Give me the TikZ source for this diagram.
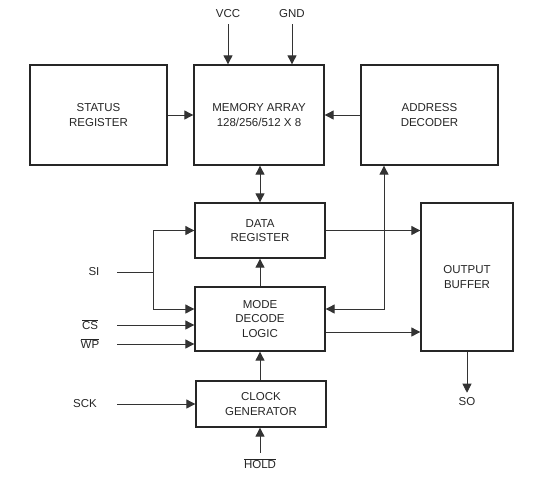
\documentclass[tikz,border=0pt]{standalone}
\usepackage{fontspec}
\setmainfont{Liberation Sans}
\usepackage{tikz}
\usetikzlibrary{arrows.meta, positioning}

\begin{document}
\begin{tikzpicture}[
    x=1pt, y=-1pt,
    >={Triangle[length=9pt, width=9pt]},
    block_box/.style={rectangle, draw=black!85, line width=1.3pt, align=center, inner sep=0pt,
        font=\fontsize{11.5}{14.5}\selectfont, text=black!85},
    pin_label/.style={inner sep=1pt, font=\fontsize{11.5}{14}\selectfont, text=black!85},
    wire/.style={draw=black!80, line width=0.9pt, ->},
    wire_both/.style={draw=black!80, line width=0.9pt, <->},
    wire_plain/.style={draw=black!80, line width=0.9pt}
]
    \useasboundingbox (0,0) rectangle (556,480);

    % top row
    \node [block_box, minimum width=137pt, minimum height=100pt] (status) at (98.5,115) {STATUS\\REGISTER};
    \node [block_box, minimum width=130pt, minimum height=100pt] (memory) at (259,115) {MEMORY ARRAY\\128/256/512 X 8};
    \node [block_box, minimum width=137pt, minimum height=100pt] (addr) at (429.5,115) {ADDRESS\\DECODER};

    % middle column
    \node [block_box, minimum width=130pt, minimum height=55pt] (datareg) at (260,230.5) {DATA\\REGISTER};
    \node [block_box, minimum width=130pt, minimum height=64pt] (mode) at (260,319) {MODE\\DECODE\\LOGIC};
    \node [block_box, minimum width=130pt, minimum height=46pt] (clock) at (261,404) {CLOCK\\GENERATOR};

    % output side
    \node [block_box, minimum width=92pt, minimum height=148pt] (outbuf) at (467,277) {OUTPUT\\BUFFER};

    % pins
    \node [pin_label] (vcc) at (228,14) {VCC};
    \node [pin_label] (gnd) at (292,14) {GND};
    \node [pin_label] (si) at (94,272) {SI};
    \node [pin_label] (cs) at (90,325) {$\overline{\mbox{CS}}$};
    \node [pin_label] (wp) at (90,344) {$\overline{\mbox{WP}}$};
    \node [pin_label] (sck) at (85,404) {SCK};
    \node [pin_label] (hold) at (260,464) {$\overline{\mbox{HOLD}}$};
    \node [pin_label] (so) at (467,402) {SO};

    \coordinate (sijoin) at (153,272);
    \coordinate (addrtap) at (384,309);

    % power
    \draw [wire] ([yshift=-5pt]vcc.south) -- (vcc.south |- memory.north);
    \draw [wire] ([yshift=-5pt]gnd.south) -- (gnd.south |- memory.north);

    % into the array
    \draw [wire] (status.east) -- (memory.west);
    \draw [wire] (addr.west) -- (memory.east);
    \draw [wire_both] (memory.south -| datareg.north) -- (datareg.north);

    % serial input
    \draw [wire_plain] (117,272) -- (sijoin);
    \draw [wire] (sijoin) |- (datareg.west);
    \draw [wire] (sijoin) |- ([yshift=10pt]mode.west);
    \draw [wire] (117,325) -- (mode.west |- 0,325);
    \draw [wire] (117,344) -- (mode.west |- 0,344);
    \draw [wire] (117,404) -- (clock.west);
    \draw [wire] ([yshift=5pt]hold.north) -- (hold.north |- clock.south);

    % control paths
    \draw [wire] (clock.north -| mode.south) -- (mode.south);
    \draw [wire] (mode.north) -- (datareg.south);
    \draw [wire_both] (mode.east |- addrtap) -| (addr.south -| addrtap);

    % output paths
    \draw [wire] (datareg.east) -- (datareg.east -| outbuf.west);
    \draw [wire] ([yshift=-13pt]mode.east) -- ([yshift=-13pt]mode.east -| outbuf.west);
    \draw [wire] (outbuf.south) -- ([yshift=4pt]so.north);
\end{tikzpicture}
\end{document}
